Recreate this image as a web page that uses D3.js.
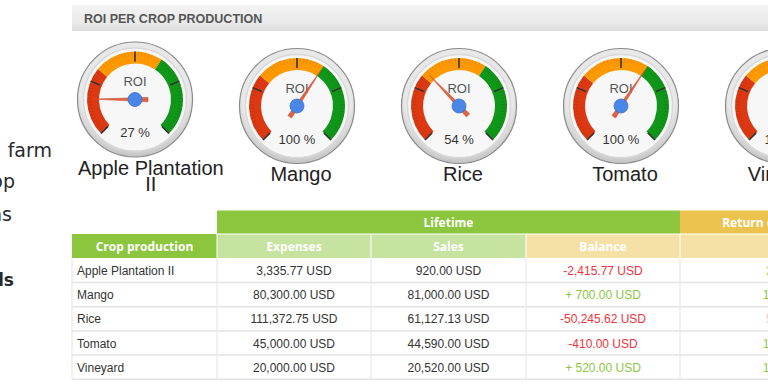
<!DOCTYPE html>
<html>
<head>
<meta charset="utf-8">
<script src="https://cdn.jsdelivr.net/npm/d3@7"></script>
<style>
  body { margin: 0; background: #fff; overflow: hidden; }
  svg { display: block; font-family: Arial, "Liberation Sans", sans-serif; }
</style>
</head>
<body>
<div id="chart"></div>
<script>
var width = 768,
    height = 384;

// data
var crops    = ["Apple Plantation II", "Mango", "Rice", "Tomato", "Vineyard"];
var roi      = [27, 100, 54, 100, 102];
var expenses = [3335.77, 80300, 111372.75, 45000, 20000];
var sales    = [920, 81000, 61127.13, 44590, 20520];
var balance  = [-2415.77, 700, -50245.62, -410, 520];
var roiText  = ["27.58 %", "100.87 %", "54.89 %", "100.00 %", "102.60 %"];
var bands    = [{from: 0, to: 50, color: "#dc3912"},
                {from: 50, to: 100, color: "#ff9900"},
                {from: 100, to: 160, color: "#109618"}];
var gaugeMax = 160,
    majorTicks = 5,
    minorTicks = 16;
// menu words of the page on the left, mostly cut off by the window edge
var sideText = [{t: "Manage your", x: -4, y: 157, w: 400, s: 19},
                {t: "farm", x: 52, y: 157, w: 400, s: 19},
                {t: "Crop", x: 15, y: 188, w: 400, s: 19},
                {t: "Operations", x: 12, y: 221, w: 400, s: 19},
                {t: "Fields", x: 14, y: 286, w: 600, s: 17}];

var svg = d3.select("#chart").append("svg")
    .attr("width", width)
    .attr("height", height);

var defs = svg.append("defs");
var hg = defs.append("linearGradient").attr("id", "hdr").attr("x1", 0).attr("y1", 0).attr("x2", 0).attr("y2", 1);
hg.append("stop").attr("offset", "0%").attr("stop-color", "#f3f3f3");
hg.append("stop").attr("offset", "70%").attr("stop-color", "#e9e9e9");
hg.append("stop").attr("offset", "100%").attr("stop-color", "#dcdcdc");

var rg = defs.append("radialGradient").attr("id", "rim").attr("cx", "50%").attr("cy", "40%").attr("r", "60%");
rg.append("stop").attr("offset", "80%").attr("stop-color", "#e8e8e8");
rg.append("stop").attr("offset", "100%").attr("stop-color", "#c2c2c2");

svg.selectAll(".side").data(sideText).enter().append("text")
    .attr("x", function(d) { return d.x; })
    .attr("y", function(d) { return d.y; })
    .attr("text-anchor", "end")
    .style("font-family", "'DejaVu Sans', sans-serif")
    .style("font-size", function(d) { return d.s + "px"; })
    .style("font-weight", function(d) { return d.w; })
    .style("fill", "#2a2a2a")
    .text(function(d) { return d.t; });

// title bar
svg.append("rect").attr("x", 72).attr("y", 5).attr("width", width - 72).attr("height", 26).attr("fill", "url(#hdr)");
svg.append("text").attr("x", 84).attr("y", 22.5)
    .style("font-size", "12.5px").style("font-weight", "bold").style("fill", "#555")
    .text("ROI PER CROP PRODUCTION");

// gauges
var gx = d3.scaleBand().domain(crops).range([54, 54 + crops.length * 162]);
var angle = d3.scaleLinear().domain([0, gaugeMax]).range([-135, 135]);
var rad = function(a) { return a * Math.PI / 180; };
var R = 57.5, face = 51.5, bIn = 36, bOut = 48;

var arc = d3.arc();

crops.forEach(function(c, i) {
  var cx = gx(c) + gx.bandwidth() / 2;

  var lab = svg.append("text").attr("text-anchor", "middle")
      .style("font-size", "20px").style("fill", "#222");
  var words = c.split(" "), lines = [], cur = "";
  var probe = lab.append("tspan");
  words.forEach(function(w) {
    var t = cur ? cur + " " + w : w;
    probe.text(t);
    if (probe.node().getComputedTextLength() > 152 && cur) { lines.push(cur); cur = w; }
    else cur = t;
  });
  lines.push(cur);
  probe.text(lines[0]);
  var firstW = probe.node().getComputedTextLength();
  probe.remove();

  var wrapped = lines.length > 1;
  var cy = 106 - (lines.length - 1) * 6.5;
  // wrapped label starts at the gauge's left edge; single lines sit centred
  var lx = wrapped ? cx - R + 0.5 + firstW / 2 : cx + 4;
  lab.selectAll("tspan").data(lines).enter().append("tspan")
      .attr("x", lx)
      .attr("y", function(d, j) { return cy + 75 + j * 16.5; })
      .text(function(d) { return d; });

  var g = svg.append("g").attr("transform", "translate(" + cx + "," + cy + ")");

  g.append("circle").attr("r", R).attr("fill", "url(#rim)").attr("stroke", "#8a8a8a").attr("stroke-width", 1.2);
  g.append("circle").attr("r", face).attr("fill", "#f7f7f7").attr("stroke", "#d8d8d8").attr("stroke-width", 1.5);

  g.selectAll(".band").data(bands).enter().append("path")
      .attr("fill", function(d) { return d.color; })
      .attr("d", function(d) {
        return arc({innerRadius: bIn, outerRadius: bOut,
                    startAngle: rad(angle(d.from)), endAngle: rad(angle(d.to))});
      });

  var minorVals = d3.range(0, (majorTicks - 1) * minorTicks + 1).map(function(k) {
    return k * gaugeMax / ((majorTicks - 1) * minorTicks);
  });
  g.selectAll(".minor").data(minorVals).enter().append("line")
      .attr("x1", function(v) { return 43 * Math.sin(rad(angle(v))); })
      .attr("y1", function(v) { return -43 * Math.cos(rad(angle(v))); })
      .attr("x2", function(v) { return bOut * Math.sin(rad(angle(v))); })
      .attr("y2", function(v) { return -bOut * Math.cos(rad(angle(v))); })
      .attr("stroke", "rgba(0,0,0,0.13)").attr("stroke-width", 0.7);

  var majorVals = d3.range(majorTicks).map(function(k) { return k * gaugeMax / (majorTicks - 1); });
  g.selectAll(".major").data(majorVals).enter().append("line")
      .attr("x1", function(v) { return 38 * Math.sin(rad(angle(v))); })
      .attr("y1", function(v) { return -38 * Math.cos(rad(angle(v))); })
      .attr("x2", function(v) { return bOut * Math.sin(rad(angle(v))); })
      .attr("y2", function(v) { return -bOut * Math.cos(rad(angle(v))); })
      .attr("stroke", "#333").attr("stroke-width", 1.6);

  g.append("text").attr("y", -13.5).attr("text-anchor", "middle")
      .style("font-size", "13px").style("fill", "#555").text("ROI");
  g.append("text").attr("y", 37.5).attr("text-anchor", "middle")
      .style("font-size", "13px").style("fill", "#333").text(roi[i] + " %");

  var a = rad(angle(Math.min(roi[i], gaugeMax)));
  var tip = 43, tail = 13, hw = 2.2;
  var sx = Math.sin(a), sy = -Math.cos(a), px = Math.cos(a), py = Math.sin(a);
  var pts = [[tip * sx, tip * sy],
             [-tail * sx + hw * px, -tail * sy + hw * py],
             [-tail * sx - hw * px, -tail * sy - hw * py]];
  g.append("path").attr("d", "M" + pts.join("L") + "Z")
      .attr("fill", "#e0593a").attr("stroke", "#d04a2c").attr("stroke-width", 0.6).attr("opacity", 0.95);
  g.append("circle").attr("r", 7).attr("fill", "#4a86e8").attr("stroke", "#3a70c8").attr("stroke-width", 0.8);
});

// table
var fmt = d3.format(",.2f");
var cols = [72, 217, 371, 526, 680, 896];
var rows = d3.scaleBand().domain(crops).range([258.3, 258.3 + crops.length * 24.2]);
var t = svg.append("g");

var h1 = 210.5, h2 = 234, hh = 24;
t.append("rect").attr("x", cols[1]).attr("y", h1).attr("width", cols[4] - cols[1]).attr("height", hh).attr("fill", "#8cc63f");
t.append("rect").attr("x", cols[4]).attr("y", h1).attr("width", cols[5] - cols[4]).attr("height", hh).attr("fill", "#ebc34e");
var h2fill = ["#8cc63f", "#c6e3a0", "#c6e3a0", "#f5e0a6", "#f5e0a6"];
h2fill.forEach(function(f, k) {
  t.append("rect").attr("x", cols[k]).attr("y", h2).attr("width", cols[k + 1] - cols[k]).attr("height", hh).attr("fill", f);
});
[1, 2, 3, 4].forEach(function(k) {
  t.append("line").attr("x1", cols[k]).attr("x2", cols[k]).attr("y1", h2).attr("y2", h2 + hh)
      .attr("stroke", "#fff").attr("stroke-width", 1);
});
t.append("line").attr("x1", cols[1]).attr("x2", cols[5]).attr("y1", h2).attr("y2", h2).attr("stroke", "#fff").attr("stroke-width", 1);

var hdrStyle = function(sel) {
  sel.attr("text-anchor", "middle")
     .style("font-family", "'Open Sans', sans-serif").style("font-size", "12px")
     .style("font-weight", "bold").style("fill", "#fff");
};
t.append("text").attr("x", (cols[1] + cols[4]) / 2).attr("y", h1 + 16.5).text("Lifetime").call(hdrStyle);
t.append("text").attr("x", (cols[4] + cols[5]) / 2).attr("y", h1 + 16.5).text("Return on investment").call(hdrStyle);
["Crop production", "Expenses", "Sales", "Balance"].forEach(function(s, k) {
  t.append("text").attr("x", (cols[k] + cols[k + 1]) / 2).attr("y", h2 + 16.5).text(s).call(hdrStyle);
});

crops.forEach(function(c) {
  t.append("line").attr("x1", cols[0]).attr("x2", cols[5])
      .attr("y1", rows(c) + rows.bandwidth()).attr("y2", rows(c) + rows.bandwidth())
      .attr("stroke", "#e3e3e3").attr("stroke-width", 1.5);
});
cols.slice(0, 5).forEach(function(x) {
  t.append("line").attr("x1", x).attr("x2", x).attr("y1", rows.range()[0]).attr("y2", rows.range()[1])
      .attr("stroke", "#ececec").attr("stroke-width", 1.5);
});

var cell = function(x, y, s, anchor, color) {
  t.append("text").attr("x", x).attr("y", y).attr("text-anchor", anchor)
      .style("font-size", "12px").style("fill", color).text(s);
};
crops.forEach(function(c, i) {
  var y = rows(c) + rows.bandwidth() / 2 + 4.5;
  cell(cols[0] + 5, y, c, "start", "#333");
  cell((cols[1] + cols[2]) / 2, y, fmt(expenses[i]) + " USD", "middle", "#333");
  cell((cols[2] + cols[3]) / 2, y, fmt(sales[i]) + " USD", "middle", "#333");
  var b = balance[i];
  cell((cols[3] + cols[4]) / 2, y, (b < 0 ? "-" + fmt(-b) : "+ " + fmt(b)) + " USD", "middle", b < 0 ? "#f2323c" : "#8cc63f");
  var rc = roi[i] < 50 ? "#e8c24a" : roi[i] < 90 ? "#f4c9c9" : "#8cc63f";
  cell((cols[4] + cols[5]) / 2, y, roiText[i], "middle", rc);
});
</script>
</body>
</html>
